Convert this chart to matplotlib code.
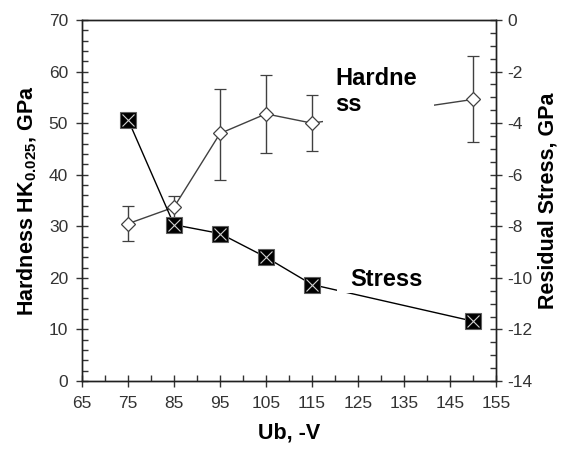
import matplotlib
matplotlib.use("Agg")
import matplotlib.pyplot as plt
from matplotlib.ticker import MultipleLocator
from matplotlib.patches import Rectangle

# ---- data ----
ub = [75, 85, 95, 105, 115, 150]
hardness = [30.5, 33.7, 48.0, 51.8, 50.0, 54.6]
hardness_err_low = [3.4, 2.2, 9.0, 7.5, 5.4, 8.3]
hardness_err_high = [3.5, 2.1, 8.7, 7.6, 5.4, 8.4]
stress = [-3.86, -7.94, -8.28, -9.20, -10.26, -11.68]
x_ticks = [65, 75, 85, 95, 105, 115, 125, 135, 145, 155]
left_ticks = [0, 10, 20, 30, 40, 50, 60, 70]
right_ticks = [-14, -12, -10, -8, -6, -4, -2, 0]

plt.rcParams['font.family'] = ['Liberation Sans', 'DejaVu Sans']
plt.rcParams['axes.unicode_minus'] = False

fig = plt.figure(figsize=(5.64, 4.51), dpi=100)
ax = fig.add_axes([82/564, 1-381/451, (496-82)/564, (381-20)/451])
ax2 = ax.twinx()

# hardness (left axis)
ax.errorbar(ub, hardness, yerr=[hardness_err_low, hardness_err_high],
            color='#404040', lw=1.0, elinewidth=1.0, capsize=4, capthick=1.0,
            marker='D', ms=7.5, mfc='white', mec='#404040', mew=0.9, zorder=3)

# stress (right axis)
ax2.plot(ub, stress, color='black', lw=1.0, zorder=3)
ax2.plot(ub, stress, linestyle='none', marker='s', ms=11, mfc='black',
         mec='#606060', mew=0.8, zorder=4)
ax2.plot(ub, stress, linestyle='none', marker='x', ms=8.5, mec='#d0d0d0',
         mew=0.8, zorder=5)

ax.set_xlim(65, 155)
ax.set_ylim(0, 70)
ax2.set_ylim(-14, 0)
ax.set_xticks(x_ticks)
ax.set_yticks(left_ticks)
ax2.set_yticks(right_ticks)
ax.xaxis.set_minor_locator(MultipleLocator(5))
ax.yaxis.set_minor_locator(MultipleLocator(2))
ax2.yaxis.set_minor_locator(MultipleLocator(0.5))

tick_font = 12.5
tc = '#333333'
ax.tick_params(axis='x', which='major', direction='inout', length=8, width=1,
               pad=7, labelsize=tick_font, colors=tc)
ax.tick_params(axis='x', which='minor', direction='in', length=4, width=1, colors=tc)
ax.tick_params(axis='y', which='major', direction='inout', length=8, width=1,
               pad=6, labelsize=tick_font, colors=tc, right=False)
ax.tick_params(axis='y', which='minor', direction='in', length=4, width=1, colors=tc, right=False)
ax2.tick_params(axis='y', which='major', direction='inout', length=8, width=1,
                pad=4, labelsize=tick_font, colors=tc)
ax2.tick_params(axis='y', which='minor', direction='in', length=4, width=1, colors=tc)
for a in (ax, ax2):
    for s in a.spines.values():
        s.set_color('#202020')
        s.set_linewidth(1.0)

ax.set_xlabel('Ub, -V', fontsize=15.5, fontweight='bold', labelpad=8)
ax.set_ylabel(r'Hardness HK$_{\mathregular{0.025}}$, GPa', fontsize=15.5, fontweight='bold', labelpad=7)
ax2.set_ylabel('Residual Stress, GPa', fontsize=15.5, fontweight='bold', labelpad=4)

# white text boxes (cover lines as in original)
ax2.add_patch(Rectangle((117.4, 49.6), 24.1, 12.6, transform=ax.transData,
                        facecolor='white', edgecolor='none', zorder=6))
ax2.add_patch(Rectangle((120.4, 17.0), 20.3, 6.4, transform=ax.transData,
                        facecolor='white', edgecolor='none', zorder=6))
ax2.text(120.0, 60.9, 'Hardne\nss', transform=ax.transData, fontsize=17,
         fontweight='bold', va='top', ha='left', linespacing=1.15, zorder=7)
ax2.text(123.3, 18.4, 'Stress', transform=ax.transData, fontsize=17,
         fontweight='bold', va='baseline', ha='left', zorder=7)

fig.savefig('out.png', dpi=100)
